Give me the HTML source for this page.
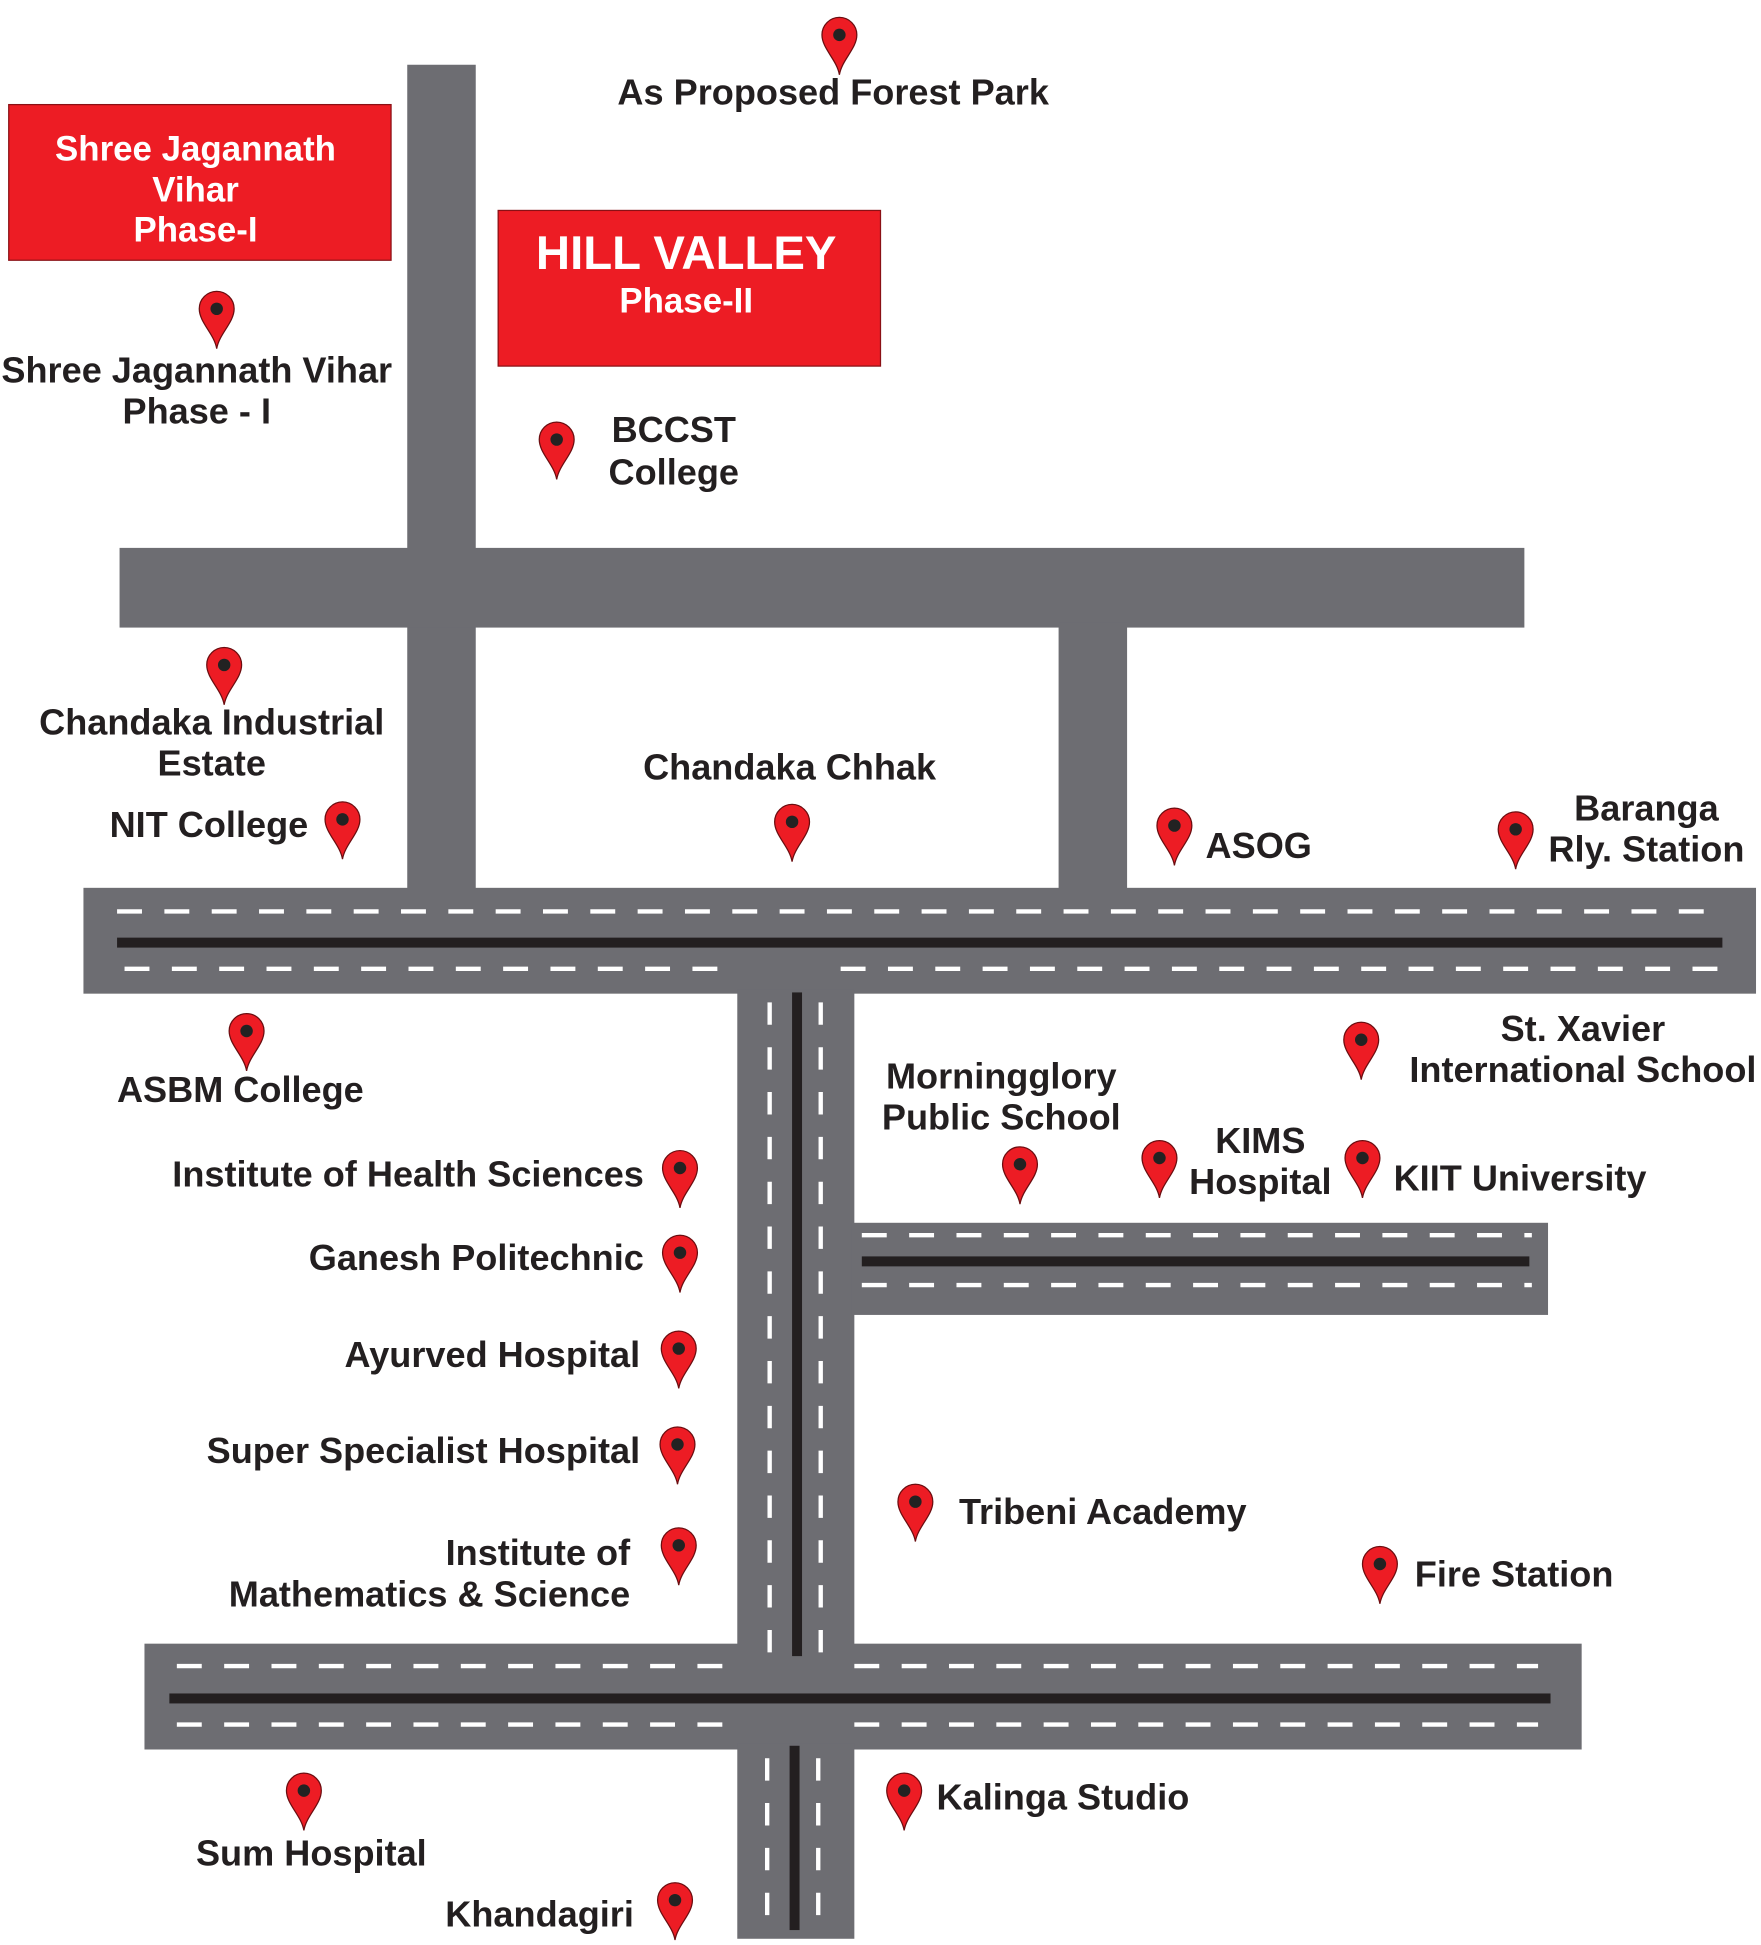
<!DOCTYPE html>
<html><head><meta charset="utf-8"><style>html,body{margin:0;padding:0;background:#fff}svg{display:block}</style></head>
<body>
<svg width="1761" height="1945" viewBox="0 0 1414 1562" preserveAspectRatio="none" xmlns="http://www.w3.org/2000/svg">
<defs>
<g id="pin">
<path d="M0,30 C-2,18 -14,9 -14,-2 A14,14 0 1,1 14,-2 C14,9 2,18 0,30 Z" fill="#ed1c24" stroke="#6b0d10" stroke-width="1"/>
<circle cx="0" cy="-2" r="5" fill="#222"/>
</g>
</defs>
<g fill="#6d6d72">
<rect x="327" y="52" width="55" height="670"/>
<rect x="96" y="440" width="1128" height="64"/>
<rect x="850" y="500" width="55" height="220"/>
<rect x="67" y="713" width="1343" height="85"/>
<rect x="592" y="795" width="94" height="530"/>
<rect x="684" y="982" width="559" height="74"/>
<rect x="116" y="1320" width="1154" height="85"/>
<rect x="592" y="1400" width="94" height="157"/>
</g>
<g stroke="#fff" stroke-width="3.5" fill="none">
<line x1="94" y1="732" x2="1385" y2="732" stroke-dasharray="20 18"/>
<line x1="100" y1="778" x2="590" y2="778" stroke-dasharray="20 18"/>
<line x1="675" y1="778" x2="1385" y2="778" stroke-dasharray="20 18"/>
<line x1="618" y1="805" x2="618" y2="1330" stroke-dasharray="18 18"/>
<line x1="659" y1="805" x2="659" y2="1330" stroke-dasharray="18 18"/>
<line x1="692" y1="992" x2="1230" y2="992" stroke-dasharray="20 18"/>
<line x1="692" y1="1032" x2="1230" y2="1032" stroke-dasharray="20 18"/>
<line x1="142" y1="1338" x2="580" y2="1338" stroke-dasharray="20 18"/>
<line x1="686" y1="1338" x2="1235" y2="1338" stroke-dasharray="20 18"/>
<line x1="142" y1="1385" x2="580" y2="1385" stroke-dasharray="20 18"/>
<line x1="686" y1="1385" x2="1235" y2="1385" stroke-dasharray="20 18"/>
<line x1="616" y1="1412" x2="616" y2="1552" stroke-dasharray="18 18"/>
<line x1="657" y1="1412" x2="657" y2="1552" stroke-dasharray="18 18"/>
</g>
<g fill="#231f20">
<rect x="94" y="753" width="1289" height="8"/>
<rect x="636" y="797" width="8" height="533"/>
<rect x="692" y="1009" width="536" height="8"/>
<rect x="136" y="1360" width="1109" height="8"/>
<rect x="634" y="1402" width="8" height="148"/>
</g>
<rect x="7" y="84" width="307" height="125" fill="#ed1c24" stroke="#8a1015" stroke-width="1"/>
<rect x="400" y="169" width="307" height="125" fill="#ed1c24" stroke="#8a1015" stroke-width="1"/>
<g font-family="Liberation Sans, Arial, sans-serif" font-weight="bold" fill="#fff" text-anchor="middle">
<text x="157" y="129" font-size="28">Shree Jagannath</text>
<text x="157" y="162" font-size="28">Vihar</text>
<text x="157" y="194" font-size="28">Phase-I</text>
<text x="551" y="216" font-size="38">HILL VALLEY</text>
<text x="551" y="251" font-size="28">Phase-II</text>
</g>
<g>
<use href="#pin" x="674" y="30"/>
<use href="#pin" x="174" y="250"/>
<use href="#pin" x="447" y="355"/>
<use href="#pin" x="180" y="536"/>
<use href="#pin" x="275" y="660"/>
<use href="#pin" x="636" y="662"/>
<use href="#pin" x="943" y="665"/>
<use href="#pin" x="1217" y="668"/>
<use href="#pin" x="198" y="830"/>
<use href="#pin" x="1093" y="837"/>
<use href="#pin" x="546" y="940"/>
<use href="#pin" x="819" y="937"/>
<use href="#pin" x="931" y="932"/>
<use href="#pin" x="1094" y="932"/>
<use href="#pin" x="546" y="1008"/>
<use href="#pin" x="545" y="1085"/>
<use href="#pin" x="544" y="1162"/>
<use href="#pin" x="545" y="1243"/>
<use href="#pin" x="735" y="1208"/>
<use href="#pin" x="1108" y="1258"/>
<use href="#pin" x="244" y="1440"/>
<use href="#pin" x="726" y="1440"/>
<use href="#pin" x="542" y="1528"/>
</g>
<g font-family="Liberation Sans, Arial, sans-serif" font-weight="bold" fill="#231f20" font-size="29">
<g text-anchor="middle">
<text x="669" y="84">As Proposed Forest Park</text>
<text x="158" y="307">Shree Jagannath Vihar</text>
<text x="158" y="340">Phase - I</text>
<text x="541" y="355">BCCST</text>
<text x="541" y="389">College</text>
<text x="170" y="590">Chandaka Industrial</text>
<text x="170" y="623">Estate</text>
<text x="634" y="626">Chandaka Chhak</text>
<text x="1322" y="659">Baranga</text>
<text x="1322" y="692">Rly. Station</text>
<text x="193" y="885">ASBM College</text>
<text x="1271" y="836">St. Xavier</text>
<text x="1271" y="869">International School</text>
<text x="804" y="874">Morningglory</text>
<text x="804" y="907">Public School</text>
<text x="1012" y="926">KIMS</text>
<text x="1012" y="959">Hospital</text>
<text x="250" y="1498">Sum Hospital</text>
</g>
<text x="88" y="672">NIT College</text>
<text x="968" y="689">ASOG</text>
<text x="1119" y="956">KIIT University</text>
<text x="770" y="1224">Tribeni Academy</text>
<text x="1136" y="1274">Fire Station</text>
<text x="752" y="1453">Kalinga Studio</text>
<g text-anchor="end">
<text x="517" y="953">Institute of Health Sciences</text>
<text x="517" y="1020">Ganesh Politechnic</text>
<text x="514" y="1098">Ayurved Hospital</text>
<text x="514" y="1175">Super Specialist  Hospital</text>
<text x="506" y="1257">Institute of</text>
<text x="506" y="1290">Mathematics &amp; Science</text>
<text x="509" y="1547">Khandagiri</text>
</g>
</g>
</svg>
</body></html>
